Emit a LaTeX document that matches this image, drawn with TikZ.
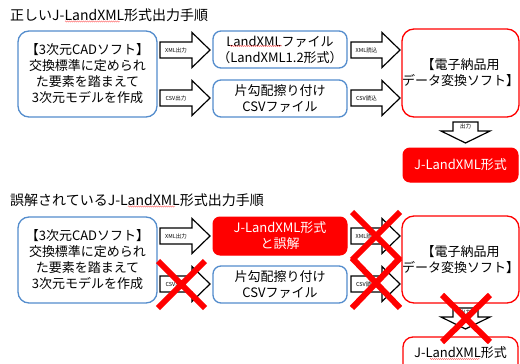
\documentclass[tikz,border=0pt]{standalone}
\usepackage{fontspec}
\setmainfont{Noto Sans CJK JP}
\usetikzlibrary{decorations.pathmorphing}
\definecolor{boxblue}{RGB}{84,141,205}
\definecolor{xred}{RGB}{255,0,0}
\tikzset{
 bluebox/.style={draw=boxblue, line width=1.3pt, rounded corners=11pt, fill=white},
 redbox/.style={draw=xred, line width=1.3pt, rounded corners=12pt, fill=white},
 redfill/.style={draw=xred, line width=1pt, fill=xred, rounded corners=7pt, text=white},
 boxtext/.style={align=center, font=\fontsize{13}{16}\selectfont, inner sep=0pt},
 blockarrow/.style={draw=black, line width=1.2pt, fill=white, line join=miter},
 arrlabel/.style={font=\fontsize{5.5}{6}\selectfont, inner sep=0pt},
 cross/.style={draw=xred, line width=6pt},
 spell/.style={draw=red!60, line width=0.4pt, decorate, decoration={snake, amplitude=0.6pt, segment length=2pt}},
 titletext/.style={anchor=west, font=\fontsize{14}{16}\selectfont, inner sep=0pt}
}
% horizontal block arrow: x1, x2, yc, label, name
\newcommand{\harrow}[5]{%
 \draw[blockarrow] (#1,#3-8) -- (#2-18,#3-8) -- (#2-18,#3-17.5) -- (#2,#3) -- (#2-18,#3+17.5) -- (#2-18,#3+8) -- (#1,#3+8) -- cycle;
 \node[arrlabel] (#5) at ({(#1+#2-18)/2},#3) {#4};}
% vertical block arrow: xc, y1, label, name
\newcommand{\varrow}[4]{%
 \draw[blockarrow] (#1-12.5,#2) -- (#1+12.5,#2) -- (#1+12.5,#2+9) -- (#1+24.5,#2+9) -- (#1,#2+21) -- (#1-24.5,#2+9) -- (#1-12.5,#2+9) -- cycle;
 \node[arrlabel] (#4) at (#1,#2+4.5) {#3};}
\begin{document}
\begin{tikzpicture}[x=1pt,y=-1pt]
\useasboundingbox (0,0) rectangle (520,364);
\clip (0,0) rectangle (520,364);
\fill[white] (0,0) rectangle (520,364);

% ---------- top section ----------
\node[titletext] (t1) at (10,15) {正しいJ-LandXML形式出力手順};
\node[bluebox, boxtext, minimum width=139pt, minimum height=86pt] (cad1) at (87.5,74)
 {【3次元CADソフト】\\交換標準に定められ\\た要素を踏まえて\\3次元モデルを作成};
\node[bluebox, boxtext, rounded corners=8pt, minimum width=134pt, minimum height=37pt] (lx1) at (280,49.5)
 {LandXMLファイル\\（LandXML1.2形式）};
\node[bluebox, boxtext, rounded corners=8pt, minimum width=134pt, minimum height=37pt] (csv1) at (280,98.5)
 {片勾配擦り付け\\CSVファイル};
\node[redbox, boxtext, minimum width=115pt, minimum height=88pt] (soft1) at (460.5,73)
 {【電子納品用\\データ変換ソフト】};
\node[redfill, boxtext, minimum width=115pt, minimum height=34pt] (jl1) at (460.5,165)
 {J-LandXML形式};
\harrow{160}{210}{50}{XML出力}{a1}
\harrow{160}{210}{98}{CSV出力}{a2}
\harrow{351}{400}{50}{XML読込}{a3}
\harrow{351}{400}{98}{CSV読込}{a4}
\varrow{465.5}{122}{出力}{a5}

% ---------- bottom section ----------
\node[titletext] (t2) at (10,200) {誤解されているJ-LandXML形式出力手順};
\node[bluebox, boxtext, minimum width=139pt, minimum height=86pt] (cad2) at (87.5,260)
 {【3次元CADソフト】\\交換標準に定められ\\た要素を踏まえて\\3次元モデルを作成};
\node[redfill, boxtext, minimum width=134pt, minimum height=38pt] (mis2) at (280,236)
 {J-LandXML形式\\と誤解};
\node[bluebox, boxtext, rounded corners=8pt, minimum width=134pt, minimum height=37pt] (csv2) at (280,284.5)
 {片勾配擦り付け\\CSVファイル};
\node[redbox, boxtext, minimum width=115pt, minimum height=87pt] (soft2) at (460.5,259.5)
 {【電子納品用\\データ変換ソフト】};
\harrow{160}{210}{236}{XML出力}{b1}
\harrow{160}{210}{284}{CSV出力}{b2}
\harrow{351}{400}{236}{XML読込}{b3}
\harrow{351}{400}{284}{CSV読込}{b4}
\varrow{465.5}{308}{出力}{b5}
\node[redbox, rounded corners=10pt, minimum width=115pt, minimum height=43pt] (jl2) at (460.5,358.5) {};
\node[boxtext] (jl2t) at (460.5,353) {J-LandXML形式};

% ---------- spell-check underlines ----------
\draw[spell] (65,21.5) -- (120,21.5);
\draw[spell] (128,206.5) -- (175,206.5);
\draw[spell] (230,46) -- (282,46);
\draw[spell] (430,359) -- (480,359);

% ---------- red crosses ----------
\draw[cross] (158,261) -- (205,308) (205,261) -- (158,308);
\draw[cross] (352,212) -- (400,260) (400,212) -- (352,260);
\draw[cross] (352,258) -- (400,308) (400,258) -- (352,308);
\draw[cross] (442,295) -- (490,342) (490,295) -- (442,342);
\end{tikzpicture}
\end{document}
